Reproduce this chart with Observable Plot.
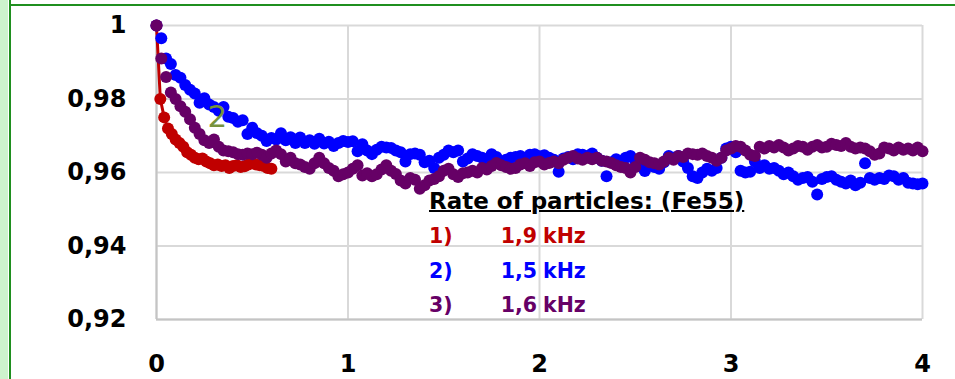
<!DOCTYPE html>
<html>
<head>
<meta charset="utf-8">
<script src="https://cdn.jsdelivr.net/npm/d3@7"></script>
<script src="https://cdn.jsdelivr.net/npm/@observablehq/plot@0.6"></script>
<style>
  html, body { margin: 0; padding: 0; background: #fff; }
  #wrap { position: relative; width: 955px; height: 379px; overflow: hidden; font-family: "DejaVu Sans", sans-serif; }
  #wrap svg { position: absolute; left: 0; top: 0; }
  .strip { position: absolute; left: 0; top: 0; width: 8px; height: 379px; background: #cdf3cd; }
  .vline { position: absolute; left: 9px; top: 0; width: 2px; height: 379px; background: #1f8f1f; }
  .hline { position: absolute; left: 9px; top: 4px; width: 946px; height: 2px; background: #1f8f1f; }
  .legend div { position: absolute; font-weight: bold; line-height: 1; white-space: nowrap; }
  .legend .title { left: 429px; top: 190px; font-size: 23px; color: #000; text-decoration: underline; text-decoration-thickness: 2px; }
  .legend .num { left: 429px; font-size: 20.5px; }
  .legend .val { right: 418px; font-size: 20.5px; text-align: right; }
  .legend .unit { left: 543px; font-size: 20.5px; }
</style>
</head>
<body>
<div id="wrap">
  <div class="strip"></div>
  <div class="vline"></div>
  <div class="hline"></div>
  <div class="legend" id="legend"></div>
</div>
<script>
// Normalised counting rate versus time for three Fe55 runs.
const xTicks = [0, 1, 2, 3, 4];
const xTickLabels = ["0", "1", "2", "3", "4"];
const yTicks = [0.92, 0.94, 0.96, 0.98, 1];
const yTickLabels = ["0,92", "0,94", "0,96", "0,98", "1"];

const legendTitle = "Rate of particles: (Fe55)";
const seriesNames = ["1)", "2)", "3)"];
const seriesRates = ["1,9", "1,5", "1,6"];
const seriesUnit = "kHz";
const seriesColors = ["#c00000", "#0000ff", "#660066"];

// sampling steps (time units between successive readings)
const redStep = 0.02;
const runStep = 0.025;

// run 1 (1,9 kHz)
const redRate = [
  1.000, 0.980, 0.975, 0.972, 0.9705, 0.969, 0.968, 0.967, 0.9655, 0.9648,
  0.964, 0.9636, 0.9638, 0.963, 0.9625, 0.962, 0.9622, 0.9618, 0.962, 0.9612,
  0.9618, 0.962, 0.9615, 0.9617, 0.9622, 0.9625, 0.9622, 0.962, 0.9618, 0.9612,
  0.961
];

// run 2 (1,5 kHz)
const blueRate = [
  1.000, 0.9965, 0.991, 0.9895, 0.9865, 0.9858, 0.9838, 0.9825, 0.9815, 0.9790,
  0.9802, 0.9785, 0.9778, 0.9768, 0.9778, 0.9752, 0.9748, 0.9738, 0.9742, 0.9705,
  0.9722, 0.9707, 0.9700, 0.9686, 0.9694, 0.9690, 0.9707, 0.9688, 0.9696, 0.9680,
  0.9695, 0.9680, 0.9688, 0.9678, 0.9692, 0.9679, 0.9684, 0.9672, 0.9680, 0.9686,
  0.9683, 0.9685, 0.9658, 0.9677, 0.9660, 0.9650, 0.9662, 0.9670, 0.9668, 0.9667,
  0.9660, 0.9655, 0.9630, 0.9650, 0.9652, 0.9648, 0.9628, 0.9632, 0.9612, 0.9640,
  0.9648, 0.9660, 0.9655, 0.9660, 0.9630, 0.9638, 0.9650, 0.9645, 0.9640, 0.9636,
  0.9650, 0.9642, 0.9628, 0.9635, 0.9640, 0.9642, 0.9645, 0.9640, 0.9648, 0.9650,
  0.9644, 0.9647, 0.9640, 0.9635, 0.9602, 0.9638, 0.9642, 0.9636, 0.9650, 0.9648,
  0.9645, 0.9652, 0.9640, 0.9632, 0.9590, 0.9628, 0.9636, 0.9632, 0.9640, 0.9645,
  0.9632, 0.9618, 0.9604, 0.9622, 0.9615, 0.9610, 0.9628, 0.9645, 0.9640, 0.9645,
  0.9630, 0.9612, 0.9590, 0.9585, 0.9600, 0.9610, 0.9605, 0.9612, 0.9640, 0.9665,
  0.9670, 0.9655, 0.9605, 0.9600, 0.9602, 0.9630, 0.9612, 0.9620, 0.9610, 0.9612,
  0.9605, 0.9595, 0.9600, 0.9590, 0.9580, 0.9585, 0.9588, 0.9575, 0.9540, 0.9582,
  0.9588, 0.9590, 0.9580, 0.9575, 0.9570, 0.9578, 0.9565, 0.9572, 0.9625, 0.9585,
  0.9580, 0.9585, 0.9582, 0.9592, 0.9590, 0.9580, 0.9585, 0.9572, 0.9570, 0.9568,
  0.9570
];

// run 3 (1,6 kHz)
const purpleRate = [
  1.000, 0.9910, 0.9860, 0.9818, 0.9800, 0.9780, 0.9765, 0.9745, 0.9722, 0.9705,
  0.9688, 0.9680, 0.9690, 0.9670, 0.9660, 0.9658, 0.9655, 0.9650, 0.9648, 0.9652,
  0.9650, 0.9654, 0.9648, 0.9640, 0.9652, 0.9660, 0.9650, 0.9630, 0.9640, 0.9625,
  0.9622, 0.9615, 0.9610, 0.9625, 0.9640, 0.9625, 0.9612, 0.9605, 0.9590, 0.9595,
  0.9600, 0.9610, 0.9620, 0.9592, 0.9598, 0.9590, 0.9595, 0.9608, 0.9620, 0.9605,
  0.9596, 0.9578, 0.9570, 0.9585, 0.9580, 0.9556, 0.9565, 0.9578, 0.9582, 0.9590,
  0.9605, 0.9610, 0.9595, 0.9588, 0.9598, 0.9600, 0.9605, 0.9600, 0.9612, 0.9608,
  0.9618, 0.9626, 0.9620, 0.9615, 0.9610, 0.9612, 0.9622, 0.9625, 0.9618, 0.9628,
  0.9630, 0.9622, 0.9626, 0.9630, 0.9625, 0.9635, 0.9640, 0.9645, 0.9638, 0.9635,
  0.9640, 0.9636, 0.9640, 0.9632, 0.9630, 0.9626, 0.9620, 0.9615, 0.9612, 0.9600,
  0.9615, 0.9640, 0.9635, 0.9628, 0.9625, 0.9622, 0.9630, 0.9640, 0.9635, 0.9645,
  0.9642, 0.9652, 0.9650, 0.9648, 0.9652, 0.9645, 0.9640, 0.9632, 0.9640, 0.9660,
  0.9665, 0.9672, 0.9670, 0.9660, 0.9648, 0.9645, 0.9670, 0.9665, 0.9672, 0.9668,
  0.9675, 0.9668, 0.9660, 0.9665, 0.9672, 0.9670, 0.9662, 0.9670, 0.9675, 0.9668,
  0.9670, 0.9678, 0.9675, 0.9672, 0.9680, 0.9670, 0.9665, 0.9668, 0.9665, 0.9658,
  0.9648, 0.9652, 0.9668, 0.9665, 0.9660, 0.9668, 0.9662, 0.9665, 0.9660, 0.9668,
  0.9658
];

// curve tag next to run 2
const curveTag = [{ t: 0.318, v: 0.975, label: "2" }];

const toRows = (values, step) => values.map((v, i) => ({ t: i * step, v }));
const red = toRows(redRate, redStep);
const blue = toRows(blueRate, runStep);
const purple = toRows(purpleRate, runStep);

const gridStyle = { stroke: "#d9d9d9", strokeOpacity: 1, strokeWidth: 2 };
const axisLine = { stroke: "#c4c4c4", strokeOpacity: 1, strokeWidth: 2 };
const dotR = 6;

const chart = Plot.plot({
  width: 955,
  height: 379,
  marginLeft: 156,
  marginRight: 33,
  marginTop: 25,
  marginBottom: 60,
  style: { background: "transparent", fontFamily: "\"DejaVu Sans\", sans-serif", color: "#000" },
  x: { domain: [0, 4] },
  y: { domain: [0.92, 1] },
  marks: [
    Plot.gridX(xTicks, gridStyle),
    Plot.gridY(yTicks, gridStyle),
    Plot.ruleX([0], axisLine),
    Plot.ruleY([0.92], axisLine),
    Plot.axisX(xTicks, {
      tickSize: 0, tickPadding: 35, fontSize: 24, fontWeight: "bold", label: null,
      tickFormat: d => xTickLabels[xTicks.indexOf(d)]
    }),
    Plot.axisY(yTicks, {
      tickSize: 0, tickPadding: 30, fontSize: 24, fontWeight: "bold", label: null,
      tickFormat: d => yTickLabels[yTicks.indexOf(d)]
    }),
    Plot.line(red, { x: "t", y: "v", stroke: seriesColors[0], strokeWidth: 3 }),
    Plot.dot(red, { x: "t", y: "v", r: dotR, fill: seriesColors[0], stroke: "none" }),
    Plot.dot(blue, { x: "t", y: "v", r: dotR, fill: seriesColors[1], stroke: "none" }),
    Plot.dot(purple, { x: "t", y: "v", r: dotR, fill: seriesColors[2], stroke: "none" }),
    Plot.text(curveTag, { x: "t", y: "v", text: "label", fill: "#77933c", fontSize: 31 })
  ]
});

const wrap = document.getElementById("wrap");
wrap.insertBefore(chart, wrap.firstChild);

// in-plot legend
const legend = document.getElementById("legend");
const addDiv = (cls, text, color, top) => {
  const d = document.createElement("div");
  d.className = cls;
  d.textContent = text;
  if (color) d.style.color = color;
  if (top != null) d.style.top = top + "px";
  legend.appendChild(d);
};
addDiv("title", legendTitle);
const rowTops = [226, 261, 294.5];
seriesNames.forEach((name, i) => {
  addDiv("num", name, seriesColors[i], rowTops[i]);
  addDiv("val", seriesRates[i], seriesColors[i], rowTops[i]);
  addDiv("unit", seriesUnit, seriesColors[i], rowTops[i]);
});
</script>
</body>
</html>
